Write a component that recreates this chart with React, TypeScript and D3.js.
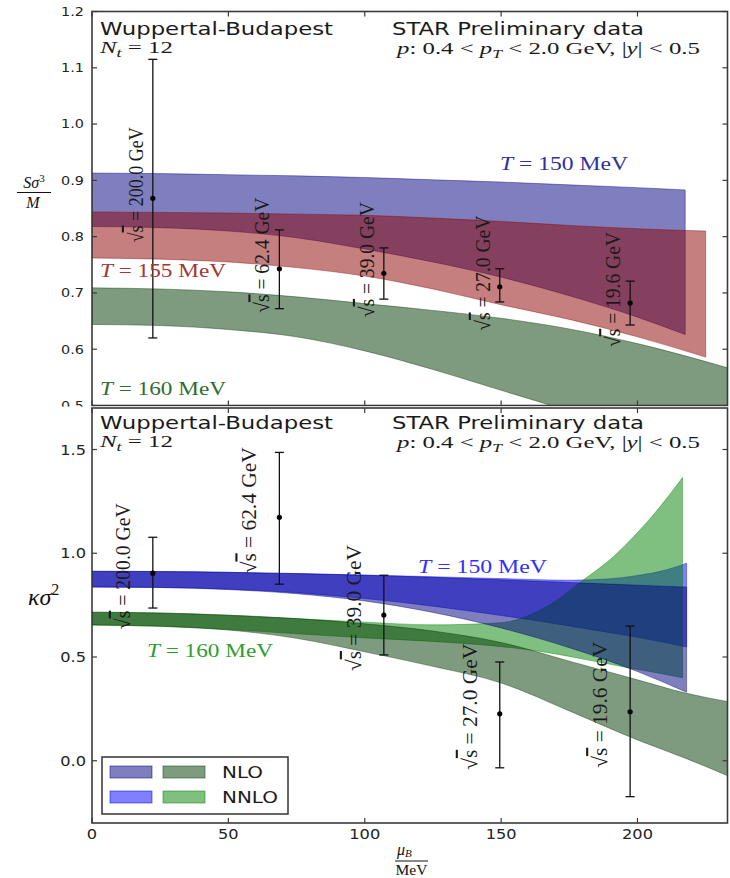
import React from "react";
import * as d3 from "d3";

const W = 730;
const H = 878;

// ---------- axes / ticks ----------
const muTicks = [0, 50, 100, 150, 200];
const topYTicks = [0.5, 0.6, 0.7, 0.8, 0.9, 1.0, 1.1, 1.2];
const botYTicks = [0.0, 0.5, 1.0, 1.5];

// ---------- STAR data points ----------
const energies = ["200.0", "62.4", "39.0", "27.0", "19.6"];
const pointMu = [22.3, 68.7, 107, 149.5, 197.3];
const skewVal = [0.868, 0.743, 0.735, 0.711, 0.682];
const skewHi = [1.115, 0.812, 0.78, 0.743, 0.721];
const skewLo = [0.62, 0.672, 0.689, 0.684, 0.643];
const kurtVal = [0.904, 1.173, 0.702, 0.226, 0.236];
const kurtHi = [1.077, 1.486, 0.894, 0.476, 0.649];
const kurtLo = [0.736, 0.851, 0.51, -0.034, -0.173];

// ---------- top panel bands (S sigma^3 / M) ----------
const t150Mu = [0, 25, 50, 75, 100, 125, 150, 175, 200, 217.5];
const t150Hi = [0.913, 0.912, 0.91, 0.908, 0.905, 0.901, 0.897, 0.892, 0.887, 0.883];
const t150Lo = [0.818, 0.816, 0.81, 0.798, 0.778, 0.755, 0.728, 0.695, 0.657, 0.626];

const t155Mu = [0, 25, 50, 75, 100, 125, 150, 175, 200, 225];
const t155Hi = [0.844, 0.843, 0.842, 0.84, 0.838, 0.833, 0.827, 0.82, 0.814, 0.81];
const t155Lo = [0.762, 0.76, 0.755, 0.745, 0.73, 0.707, 0.679, 0.653, 0.622, 0.586];

const t160Mu = [0, 25, 50, 75, 100, 125, 150, 175, 200, 233];
const t160Hi = [0.709, 0.707, 0.702, 0.693, 0.681, 0.669, 0.655, 0.636, 0.61, 0.567];
const t160Lo = [0.644, 0.642, 0.635, 0.622, 0.597, 0.564, 0.527, 0.49, 0.45, 0.39];

// ---------- bottom panel bands (kappa sigma^2) ----------
const nnloBlueMu = [0, 25, 50, 75, 100, 125, 150, 175, 190, 200, 210, 218];
const nnloBlueHi = [0.913, 0.912, 0.908, 0.902, 0.895, 0.887, 0.878, 0.87, 0.877, 0.893, 0.918, 0.952];
const nnloBlueLo = [0.837, 0.835, 0.827, 0.81, 0.782, 0.745, 0.7, 0.65, 0.617, 0.595, 0.57, 0.548];

const nloBlueMu = [0, 25, 50, 75, 100, 125, 150, 175, 200, 218];
const nloBlueHi = [0.913, 0.912, 0.908, 0.902, 0.894, 0.884, 0.872, 0.859, 0.846, 0.837];
const nloBlueLo = [0.837, 0.835, 0.825, 0.805, 0.77, 0.715, 0.64, 0.545, 0.43, 0.33];

const nnloGreenMu = [0, 25, 50, 75, 100, 125, 150, 160, 170, 180, 190, 200, 208, 216.5];
const nnloGreenHi = [0.716, 0.712, 0.7, 0.685, 0.668, 0.655, 0.665, 0.7, 0.77, 0.87, 0.97, 1.1, 1.22, 1.365];
const nnloGreenLo = [0.654, 0.648, 0.632, 0.612, 0.592, 0.575, 0.55, 0.535, 0.515, 0.49, 0.465, 0.44, 0.422, 0.4];

const nloGreenMu = [0, 25, 50, 75, 100, 125, 150, 175, 200, 218, 233];
const nloGreenHi = [0.716, 0.712, 0.702, 0.685, 0.66, 0.625, 0.57, 0.48, 0.39, 0.325, 0.285];
const nloGreenLo = [0.654, 0.648, 0.63, 0.59, 0.525, 0.455, 0.375, 0.24, 0.1, 0.01, -0.072];

// ---------- scales ----------
const X0 = 92;
const X1 = 727.5;
const x = d3.scaleLinear().domain([0, 233]).range([X0, X1]);
const TOP0 = 11.5;
const TOP1 = 405.5;
const BOT0 = 408;
const BOT1 = 823;
const yTop = d3.scaleLinear().domain([0.5, 1.2]).range([TOP1, TOP0]);
const yBot = d3.scaleLinear().domain([-0.3, 1.7]).range([BOT1, BOT0]);

const SANS = "'DejaVu Sans', sans-serif";
const SERIF = "'Liberation Serif', serif";

const C_NAVY = "rgb(0,0,128)";
const C_BLUE = "rgb(0,0,255)";
const C_RED = "rgb(139,0,0)";
const C_DGREEN = "rgb(0,55,0)";
const C_GREEN = "rgb(0,128,0)";

function bandPath(mu: number[], hi: number[], lo: number[], y: d3.ScaleLinear<number, number>) {
  const gen = d3
    .area<number>()
    .x((_, i) => x(mu[i]))
    .y0((_, i) => y(lo[i]))
    .y1((_, i) => y(hi[i]))
    .curve(d3.curveMonotoneX);
  return gen(mu) || "";
}

function Band({ d, color }: { d: string; color: string }) {
  return <path d={d} fill={color} fillOpacity={0.5} stroke={color} strokeOpacity={0.5} strokeWidth={0.8} />;
}

function Txt(props: any) {
  const { x: tx, y: ty, size, family = SERIF, anchor = "start", width, rotate, sx, fill = "#1a1a1a", italic, children } = props;
  let tr = `translate(${tx},${ty})`;
  if (sx) tr += ` scale(${sx},1)`;
  if (rotate) tr += ` rotate(${rotate})`;
  return (
    <text
      transform={tr}
      fontSize={size}
      fontFamily={family}
      textAnchor={anchor}
      fill={fill}
      fontStyle={italic ? "italic" : undefined}
      textLength={width}
      lengthAdjust={width ? "spacingAndGlyphs" : undefined}
    >
      {children}
    </text>
  );
}

function Frame({ y0, y1, yTicks, y }: { y0: number; y1: number; yTicks: number[]; y: d3.ScaleLinear<number, number> }) {
  const L = 5;
  return (
    <g stroke="#3a3a3a" strokeWidth={1.2}>
      {muTicks.map((t) => (
        <g key={"xt" + t}>
          <line x1={x(t)} x2={x(t)} y1={y1} y2={y1 - L} />
          <line x1={x(t)} x2={x(t)} y1={y0} y2={y0 + L} />
        </g>
      ))}
      {yTicks.map((t) => (
        <g key={"yt" + t}>
          <line x1={X0} x2={X0 + L} y1={y(t)} y2={y(t)} />
          <line x1={X1} x2={X1 - L} y1={y(t)} y2={y(t)} />
        </g>
      ))}
      <rect x={X0} y={y0} width={X1 - X0} height={y1 - y0} fill="none" strokeWidth={1.6} />
    </g>
  );
}

function Headers({ base }: { base: number }) {
  return (
    <g>
      <Txt x={100} y={base} size={18} family={SANS} width={233}>
        Wuppertal-Budapest
      </Txt>
      <Txt x={100} y={base + 17.5} size={16.5} width={73}>
        <tspan fontStyle="italic">N</tspan>
        <tspan fontStyle="italic" fontSize={12} dy={4}>t</tspan>
        <tspan dy={-4}>{" = 12"}</tspan>
      </Txt>
      <Txt x={392} y={base} size={18} family={SANS} width={252}>
        STAR Preliminary data
      </Txt>
      <Txt x={397} y={base + 19} size={17} width={303}>
        <tspan fontStyle="italic">p</tspan>
        <tspan>{": 0.4 < "}</tspan>
        <tspan fontStyle="italic">p</tspan>
        <tspan fontStyle="italic" fontSize={12} dy={4}>T</tspan>
        <tspan dy={-4}>{" < 2.0 GeV, |"}</tspan>
        <tspan fontStyle="italic">y</tspan>
        <tspan>{"| < 0.5"}</tspan>
      </Txt>
    </g>
  );
}

function TLabel({ tx, ty, w, fill, temp }: { tx: number; ty: number; w: number; fill: string; temp: string }) {
  return (
    <Txt x={tx} y={ty} size={18} width={w} fill={fill}>
      <tspan fontStyle="italic">T</tspan>
      <tspan>{" = " + temp + " MeV"}</tspan>
    </Txt>
  );
}

function Points({ vals, his, los, y, dx, dy, len }: any) {
  return (
    <g>
      {energies.map((e, i) => {
        const px = x(pointMu[i]);
        const py = y(vals[i]);
        return (
          <g key={e}>
            <g stroke="#111" strokeWidth={1.3}>
              <line x1={px} x2={px} y1={y(his[i])} y2={y(los[i])} />
              <line x1={px - 4.5} x2={px + 4.5} y1={y(his[i])} y2={y(his[i])} />
              <line x1={px - 4.5} x2={px + 4.5} y1={y(los[i])} y2={y(los[i])} />
            </g>
            <circle cx={px} cy={py} r={2.6} fill="#000" />
            <Txt x={px + dx} y={py + dy} size={21} rotate={-90} width={len} fill="#1a1a1a">
              <tspan>√</tspan>
              <tspan style={{ textDecoration: "overline" }}>s</tspan>
              <tspan>{" = " + e + " GeV"}</tspan>
            </Txt>
          </g>
        );
      })}
    </g>
  );
}

export default function App() {
  return (
    <svg width={W} height={H} viewBox={`0 0 ${W} ${H}`} style={{ position: "absolute", left: 0, top: 0, background: "#fff" }}>
      <defs>
        <clipPath id="clipTop">
          <rect x={X0} y={TOP0} width={X1 - X0} height={TOP1 - TOP0} />
        </clipPath>
        <clipPath id="clipBot">
          <rect x={X0} y={BOT0} width={X1 - X0} height={BOT1 - BOT0} />
        </clipPath>
      </defs>
      <rect x={0} y={0} width={W} height={H} fill="#fff" />

      {/* ================= TOP PANEL ================= */}
      <g clipPath="url(#clipTop)">
        <Band d={bandPath(t150Mu, t150Hi, t150Lo, yTop)} color={C_NAVY} />
        <Band d={bandPath(t155Mu, t155Hi, t155Lo, yTop)} color={C_RED} />
        <Band d={bandPath(t160Mu, t160Hi, t160Lo, yTop)} color={C_DGREEN} />
      </g>
      <Points vals={skewVal} his={skewHi} los={skewLo} y={yTop} dx={-10} dy={44} len={115} />
      <Headers base={35} />
      <TLabel tx={500} ty={170} w={128} fill="#30309a" temp="150" />
      <TLabel tx={100} ty={277} w={126} fill="#a53535" temp="155" />
      <TLabel tx={100} ty={395} w={126} fill="#2f6d2f" temp="160" />
      <Frame y0={TOP0} y1={TOP1} yTicks={topYTicks} y={yTop} />
      {topYTicks.map((t) => (
        <Txt key={"tl" + t} x={84} y={yTop(t) + 4.3} size={12} family={SANS} anchor="end" sx={1.2} fill="#222">
          {t.toFixed(1)}
        </Txt>
      ))}
      {/* y label: S sigma^3 / M */}
      <Txt x={34} y={188} size={16} anchor="middle" fill="#111">
        <tspan fontStyle="italic">Sσ</tspan>
        <tspan fontSize={11} dy={-6}>3</tspan>
      </Txt>
      <line x1={17} x2={51} y1={192.5} y2={192.5} stroke="#111" strokeWidth={1} />
      <Txt x={33} y={208} size={16} anchor="middle" fill="#111">
        <tspan fontStyle="italic">M</tspan>
      </Txt>

      {/* overlap cover (bottom image pasted over top) */}
      <rect x={0} y={406.6} width={W} height={H - 406.6} fill="#fff" />

      {/* ================= BOTTOM PANEL ================= */}
      <g clipPath="url(#clipBot)">
        <Band d={bandPath(nnloBlueMu, nnloBlueHi, nnloBlueLo, yBot)} color={C_BLUE} />
        <Band d={bandPath(nnloGreenMu, nnloGreenHi, nnloGreenLo, yBot)} color={C_GREEN} />
        <Band d={bandPath(nloBlueMu, nloBlueHi, nloBlueLo, yBot)} color={C_NAVY} />
        <Band d={bandPath(nloGreenMu, nloGreenHi, nloGreenLo, yBot)} color={C_DGREEN} />
      </g>
      <Points vals={kurtVal} his={kurtHi} los={kurtLo} y={yBot} dx={-23} dy={56} len={126} />
      <Headers base={429} />
      <TLabel tx={418} ty={573} w={129} fill="#3030ff" temp="150" />
      <TLabel tx={147} ty={657} w={126} fill="#2e9e2e" temp="160" />
      <Frame y0={BOT0} y1={BOT1} yTicks={botYTicks} y={yBot} />
      {botYTicks.map((t) => (
        <Txt key={"bl" + t} x={86} y={yBot(t) + 5} size={13.5} family={SANS} anchor="end" sx={1.2} fill="#222">
          {t.toFixed(1)}
        </Txt>
      ))}
      {muTicks.map((t) => (
        <Txt key={"xl" + t} x={x(t)} y={839} size={13.5} family={SANS} anchor="middle" sx={1.2} fill="#222">
          {String(t)}
        </Txt>
      ))}

      {/* legend */}
      <g>
        <rect x={102} y={757} width={186} height={57} fill="#fff" stroke="#333" strokeWidth={1.5} />
        <rect x={110} y={766} width={42} height={12} fill={C_NAVY} fillOpacity={0.5} stroke={C_NAVY} strokeOpacity={0.5} />
        <rect x={163} y={766} width={42} height={12} fill={C_DGREEN} fillOpacity={0.5} stroke={C_DGREEN} strokeOpacity={0.5} />
        <rect x={110} y={791} width={42} height={12} fill={C_BLUE} fillOpacity={0.5} stroke={C_BLUE} strokeOpacity={0.5} />
        <rect x={163} y={791} width={42} height={12} fill={C_GREEN} fillOpacity={0.5} stroke={C_GREEN} strokeOpacity={0.5} />
        <Txt x={222} y={777.5} size={15.5} family={SANS} width={41}>
          NLO
        </Txt>
        <Txt x={222} y={802.5} size={15.5} family={SANS} width={56}>
          NNLO
        </Txt>
      </g>

      {/* y label: kappa sigma^2 */}
      <Txt x={28} y={605} size={24} fill="#111">
        <tspan fontStyle="italic">κσ</tspan>
        <tspan fontSize={16} dy={-10}>2</tspan>
      </Txt>

      {/* x label: mu_B / MeV */}
      <Txt x={397} y={855} size={16} fill="#111">
        <tspan fontStyle="italic">μ</tspan>
        <tspan fontStyle="italic" fontSize={11} dy={2}>B</tspan>
      </Txt>
      <line x1={395} x2={428} y1={861} y2={861} stroke="#111" strokeWidth={1} />
      <Txt x={411.5} y={875} size={15.5} anchor="middle" fill="#111">
        MeV
      </Txt>
    </svg>
  );
}
